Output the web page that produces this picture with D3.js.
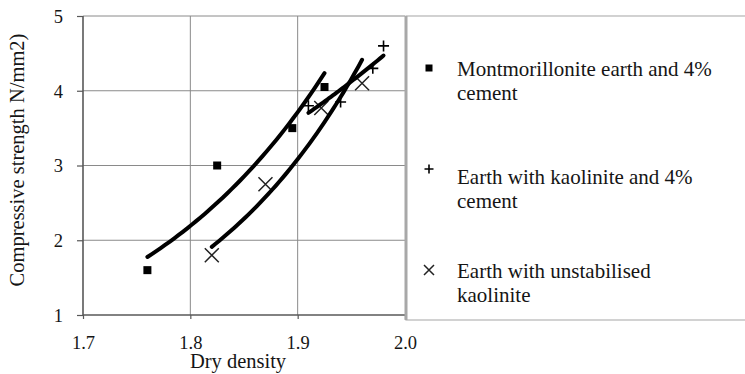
<!DOCTYPE html>
<html>
<head>
<meta charset="utf-8">
<script src="https://cdn.jsdelivr.net/npm/d3@7"></script>
<style>
  html, body { margin: 0; padding: 0; background: #fff; }
  svg { display: block; }
</style>
</head>
<body>
<svg id="chart" width="745" height="374"></svg>
<script>
// Dry density vs compressive strength for three earth mixes
const seriesNames = [
  ["Montmorillonite earth and 4%", "cement"],
  ["Earth with kaolinite and 4%", "cement"],
  ["Earth with unstabilised", "kaolinite"]
];
const seriesMarkers = ["square", "plus", "cross"];

const montDensity   = [1.76, 1.825, 1.895, 1.925];
const montStrength  = [1.6, 3.0, 3.5, 4.05];
const kaolDensity   = [1.91, 1.94, 1.97, 1.98];
const kaolStrength  = [3.8, 3.85, 4.3, 4.6];
const unstDensity   = [1.82, 1.87, 1.922, 1.96];
const unstStrength  = [1.8, 2.75, 3.77, 4.1];

const xTicks = [1.7, 1.8, 1.9, 2.0];
const yTicks = [1, 2, 3, 4, 5];

const series = [
  { x: montDensity, y: montStrength, marker: seriesMarkers[0], name: seriesNames[0] },
  { x: kaolDensity, y: kaolStrength, marker: seriesMarkers[1], name: seriesNames[1] },
  { x: unstDensity, y: unstStrength, marker: seriesMarkers[2], name: seriesNames[2] }
];

const FONT = '"Liberation Serif"';
const INK = "#151515";

const svg = d3.select("#chart");
const plotLeft = 83, plotRight = 405, plotTop = 16, plotBottom = 315;

const x = d3.scaleLinear().domain([1.7, 2.0]).range([plotLeft, plotRight]);
const y = d3.scaleLinear().domain([1, 5]).range([plotBottom, plotTop]);

// Grid lines
svg.append("g").selectAll("line").data(yTicks.slice(1)).join("line")
  .attr("x1", plotLeft).attr("x2", plotRight)
  .attr("y1", d => y(d)).attr("y2", d => y(d))
  .attr("stroke", "#8a8a8a").attr("stroke-width", 1);
svg.append("g").selectAll("line").data(xTicks.slice(1, -1)).join("line")
  .attr("x1", d => x(d)).attr("x2", d => x(d))
  .attr("y1", plotTop).attr("y2", plotBottom)
  .attr("stroke", "#8a8a8a").attr("stroke-width", 1);

// Axes
const yAxis = d3.axisLeft(y).tickValues(yTicks).tickFormat(d3.format("d")).tickSize(6).tickPadding(14);
const xAxis = d3.axisBottom(x).tickValues(xTicks).tickFormat(d3.format(".1f")).tickSize(4).tickPadding(6);

const gy = svg.append("g").attr("transform", `translate(${plotLeft},0)`).call(yAxis);
const gx = svg.append("g").attr("transform", `translate(0,${plotBottom})`).call(xAxis);
[gx, gy].forEach(g => {
  g.attr("font-family", null).attr("font-size", null);
  g.select(".domain").attr("stroke", "#585858").attr("stroke-width", 1.6);
  g.selectAll(".tick line").attr("stroke", "#585858").attr("stroke-width", 1.2);
  g.selectAll(".tick text").style("font-family", FONT)
    .style("font-size", "18.5px").attr("fill", INK);
});
gy.select(".domain").attr("d", `M0,${plotTop}V${plotBottom}`);
gx.select(".domain").attr("d", `M${plotLeft},0H${plotRight}`);
gx.selectAll(".tick text").attr("dy", null).attr("y", 34);
gy.selectAll(".tick text").attr("dy", "0.34em");

// Legend box (shares its left edge with the plot's right edge)
svg.append("rect")
  .attr("x", plotRight + 1).attr("y", plotTop).attr("width", 400).attr("height", 304)
  .attr("fill", "none").attr("stroke", "#b4b4b4").attr("stroke-width", 1.2);
svg.append("line")
  .attr("x1", plotRight + 1).attr("x2", plotRight + 1).attr("y1", plotTop).attr("y2", 320)
  .attr("stroke", "#a8a8a8").attr("stroke-width", 3);

// Axis titles
svg.append("text").attr("x", 238).attr("y", 368).attr("text-anchor", "middle")
  .style("font-family", FONT).style("font-size", "20.5px").attr("fill", INK)
  .text("Dry density");
svg.append("text").attr("transform", "translate(24,160) rotate(-90)")
  .attr("text-anchor", "middle")
  .style("font-family", FONT).style("font-size", "20.5px").attr("fill", INK)
  .text("Compressive strength N/mm2)");

// Marker drawing
function drawMarker(g, type, cx, cy, s) {
  if (type === "square") {
    g.append("rect").attr("x", cx - s / 2).attr("y", cy - s / 2)
      .attr("width", s).attr("height", s).attr("fill", "#000");
  } else if (type === "plus") {
    const h = s / 2;
    g.append("path").attr("d", `M${cx - h},${cy}H${cx + h}M${cx},${cy - h}V${cy + h}`)
      .attr("stroke", "#000").attr("stroke-width", 1.6).attr("fill", "none");
  } else {
    const h = s / 2;
    g.append("path").attr("d", `M${cx - h},${cy - h}L${cx + h},${cy + h}M${cx - h},${cy + h}L${cx + h},${cy - h}`)
      .attr("stroke", "#222").attr("stroke-width", 1.5).attr("fill", "none");
  }
}
const plotMarkerSize = { square: 8, plus: 11, cross: 14 };
const legendMarkerSize = { square: 7, plus: 9, cross: 10 };

const markerG = svg.append("g");
series.forEach(s => {
  s.x.forEach((xv, i) => drawMarker(markerG, s.marker, x(xv), y(s.y[i]), plotMarkerSize[s.marker]));
});

// Exponential trendlines fitted to each series (least squares on ln y)
function expFit(xs, ys) {
  const ly = ys.map(Math.log);
  const mx = d3.mean(xs), my = d3.mean(ly);
  const b = d3.sum(xs, (v, i) => (v - mx) * (ly[i] - my)) / d3.sum(xs, v => (v - mx) ** 2);
  const a = my - b * mx;
  return v => Math.exp(a + b * v);
}
const line = d3.line().x(d => x(d[0])).y(d => y(d[1]));
series.forEach(s => {
  const f = expFit(s.x, s.y);
  const [x0, x1] = d3.extent(s.x);
  const pts = d3.range(0, 41).map(k => {
    const xv = x0 + (x1 - x0) * k / 40;
    return [xv, f(xv)];
  });
  svg.append("path").attr("d", line(pts)).attr("fill", "none")
    .attr("stroke", "#000").attr("stroke-width", 4).attr("stroke-linecap", "round");
});

// Legend entries
const legendRows = [
  { my: 68, ty: 76 },
  { my: 169, ty: 184 },
  { my: 270, ty: 278 }
];
series.forEach((s, i) => {
  const r = legendRows[i];
  const g = svg.append("g");
  drawMarker(g, s.marker, 429, r.my, legendMarkerSize[s.marker]);
  [0, 1].forEach(j => {
    g.append("text").attr("x", 457).attr("y", r.ty + j * 23.5)
      .style("font-family", FONT).style("font-size", "21px").attr("fill", INK)
      .text(s.name[j]);
  });
});
</script>
</body>
</html>
